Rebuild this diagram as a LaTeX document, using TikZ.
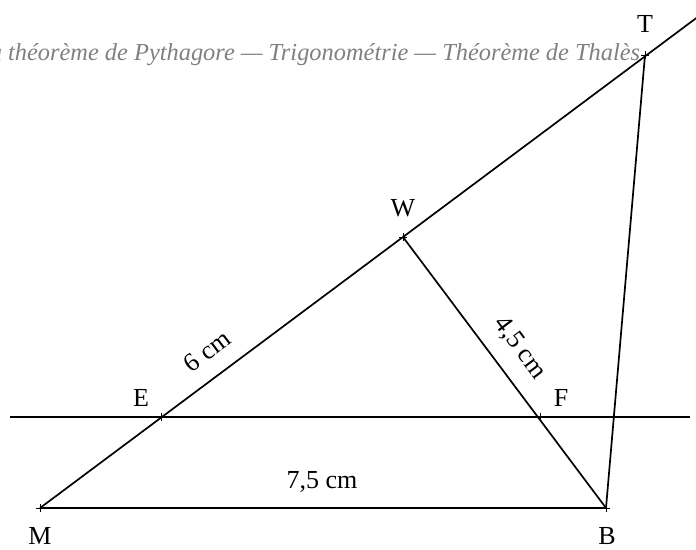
\documentclass[tikz,border=0pt]{standalone}
\usepackage{fontspec}
\setmainfont{Liberation Serif}
\usetikzlibrary{calc}
\begin{document}
\begin{tikzpicture}[x=1pt,y=-1pt, line width=1.7pt,
  lbl/.style={font=\fontsize{26}{30}\selectfont, inner sep=0pt},
  tickmark/.style={line width=0.7pt},
  header/.style={font=\fontsize{24.4}{28}\selectfont\itshape, text=black!50, inner sep=0pt, anchor=base east}]
\useasboundingbox (0,0) rectangle (696,549);
\coordinate (M) at (40,508);
\coordinate (B) at (606,508);
\coordinate (E) at (161,417);
\coordinate (F) at (540,417);
\coordinate (W) at (403,237);
\coordinate (T) at (645,55);
\coordinate (X) at ($(M)!1.81!(W)$);
\coordinate (L1) at (10,417);
\coordinate (L2) at (690,417);
% header
\node[header] (hd) at (641,60) {du théorème de Pythagore — Trigonométrie — Théorème de Thalès};
% lines
\draw (M) -- (B);
\draw (M) -- (X);
\draw (W) -- (B);
\draw (T) -- (B);
\draw (L1) -- (L2);
% ticks
\foreach \p in {M,B,E,F,W,T}
  \draw[tickmark] ($(\p)+(-4,0)$) -- ($(\p)+(4,0)$) ($(\p)+(0,-4)$) -- ($(\p)+(0,4)$);
% labels
\node[lbl] (Ml) at (40,536) {M};
\node[lbl] (Bl) at (607,536) {B};
\node[lbl] (El) at (141,398) {E};
\node[lbl] (Fl) at (561,398) {F};
\node[lbl] (Wl) at (403,208) {W};
\node[lbl] (Tl) at (645,24) {T};
\node[lbl, rotate=36.75] (d1) at (207,351) {6 cm};
\node[lbl, rotate=-53.2] (d2) at (520,348) {4,5 cm};
\node[lbl] (d3) at (322,482) {7,5 cm};
\end{tikzpicture}
\end{document}
